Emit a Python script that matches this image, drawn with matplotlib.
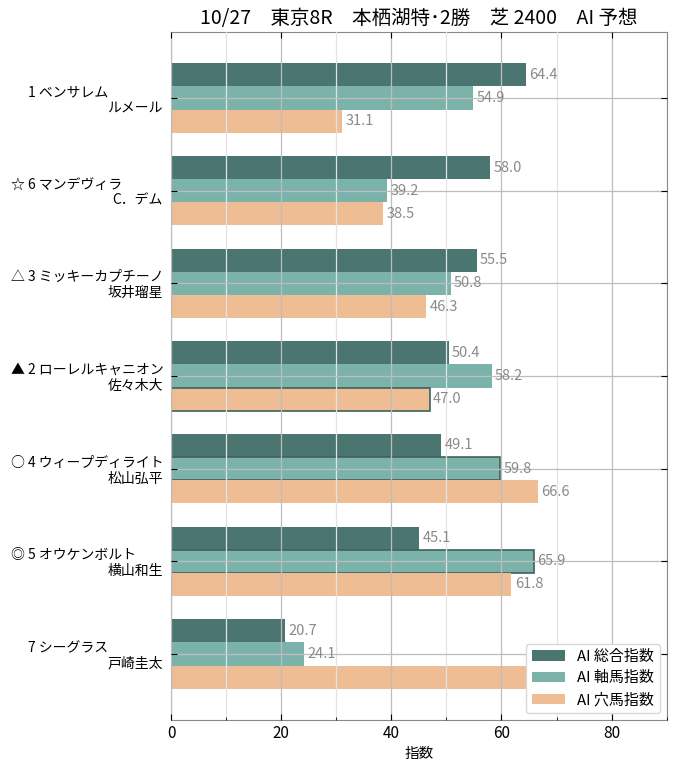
import matplotlib
matplotlib.use("Agg")
import matplotlib.pyplot as plt
import numpy as np
from matplotlib.ticker import MultipleLocator

plt.rcParams['font.family'] = ['Noto Sans CJK JP', 'DejaVu Sans']

# ---- data ----
marks = ["　", "☆", "△", "▲", "○", "◎", "　"]
numbers = ["1", "6", "3", "2", "4", "5", "7"]
horses = ["ベンサレム", "マンデヴィラ", "ミッキーカプチーノ", "ローレルキャニオン",
          "ウィープディライト", "オウケンボルト", "シーグラス"]
jockeys = ["ルメール", "C．デム", "坂井瑠星", "佐々木大", "松山弘平", "横山和生", "戸崎圭太"]
sogo = [64.4, 58.0, 55.5, 50.4, 49.1, 45.1, 20.7]
jiku = [54.9, 39.2, 50.8, 58.2, 59.8, 65.9, 24.1]
ana = [31.1, 38.5, 46.3, 47.0, 66.6, 61.8, 68.0]
series_names = ["AI 総合指数", "AI 軸馬指数", "AI 穴馬指数"]
# highlighted bars: (horse index, series index)
highlights = [(3, 2), (4, 1), (5, 1)]
title = "10/27　東京8R　本栖湖特･2勝　芝 2400　AI 予想"

colors = ["#4B7570", "#7BB3AB", "#EEBD93"]
edge_hl = "#3F615C"

fig = plt.figure(figsize=(6.75, 7.7), dpi=100)
ax = fig.add_axes([171/675, 1-720/770, (666.7-171)/675, (720-32)/770])

y = np.arange(len(horses))
h = 0.25
series = [sogo, jiku, ana]
offsets = [-h, 0, h]
for si, (vals, col, name, off) in enumerate(zip(series, colors, series_names, offsets)):
    bars = ax.barh(y + off, vals, height=h, color=col, label=name, zorder=1)
    for hi, (b, v) in enumerate(zip(bars, vals)):
        if (hi, si) in highlights:
            b.set_edgecolor(edge_hl)
            b.set_linewidth(1.2)
        ax.text(v + 0.6, y[hi] + off, f"{v:.1f}", va="center", ha="left",
                fontsize=10.5, color="#8a8a8a", zorder=3)

ax.set_xlim(0, 90)
ax.invert_yaxis()
ax.set_yticks(y)
ax.set_yticklabels([""] * len(y))

for i in range(len(y)):
    ax.annotate(f"{marks[i]} {numbers[i]} {horses[i]}", xy=(0, y[i]),
                xycoords=("axes fraction", "data"), xytext=(-160, 6),
                textcoords="offset pixels", ha="left", va="center", fontsize=10)
    ax.annotate(jockeys[i], xy=(0, y[i]),
                xycoords=("axes fraction", "data"), xytext=(-8, -10),
                textcoords="offset pixels", ha="right", va="center", fontsize=10)

ax.xaxis.set_major_locator(MultipleLocator(20))
ax.xaxis.set_minor_locator(MultipleLocator(10))
ax.tick_params(axis="x", which="major", direction="in", top=True, length=4, labelsize=11)
ax.tick_params(axis="x", which="minor", direction="in", top=False, length=2.5)
ax.tick_params(axis="y", which="major", direction="in", right=True, length=4)
ax.set_axisbelow(False)
ax.grid(which="major", axis="both", color="#bdbdbd", linewidth=0.9, zorder=2)
ax.grid(which="minor", axis="x", color="#e3e3e3", linewidth=0.9, zorder=2)
for s in ax.spines.values():
    s.set_color("#888888")

ax.set_xlabel("指数", fontsize=10.5)
ax.set_title(title, fontsize=14, pad=6)

leg = ax.legend(loc="lower right", fontsize=10.8, framealpha=1.0, fancybox=True,
                edgecolor="#d8d8d8", borderaxespad=0.45, handlelength=2.2)
leg.set_zorder(5)

fig.savefig("out.png", dpi=100)
